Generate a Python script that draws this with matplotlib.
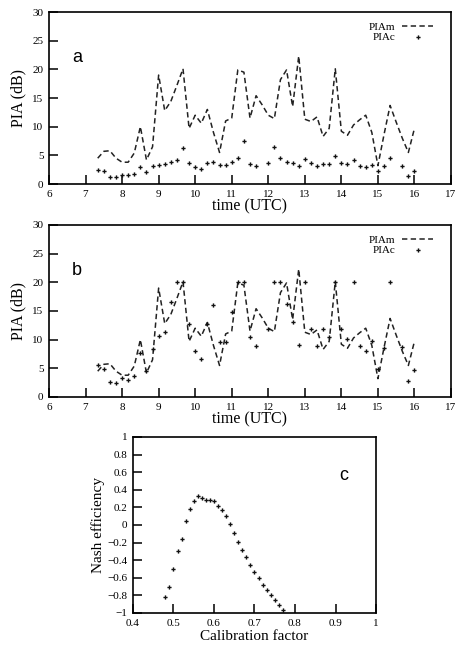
import numpy as np
import matplotlib
matplotlib.use("Agg")
import matplotlib.pyplot as plt

# Time steps (UTC hours), every 10 minutes from 7:20 to 16:00
start_min = 7 * 60 + 20
time_utc = [(start_min + 10 * i) / 60.0 for i in range(53)]

pia_m = [4.5, 5.7, 5.8, 4.5, 3.8, 3.8, 5.4, 10.0, 4.2, 6.5,
         19.0, 12.8, 14.4, 17.2, 20.1, 9.7, 12.0, 10.6, 13.0, 9.0,
         5.5, 11.0, 11.5, 19.9, 19.5, 11.5, 15.4, 13.8, 12.0, 11.4,
         18.2, 19.9, 13.5, 22.3, 11.3, 10.9, 11.7, 8.3, 9.7, 20.1,
         9.2, 8.5, 10.3, 11.2, 12.0, 9.0, 3.2, 8.6, 13.7, 10.8,
         8.0, 5.5, 9.7]

nan = float("nan")
pia_c_a = [2.4, 2.2, 1.3, 1.2, 1.6, 1.5, 1.8, 2.9, 2.1, 3.1,
           3.4, 3.5, 3.8, 4.2, 6.3, 3.6, 3.0, 2.7, 3.6, 3.8,
           3.4, 3.4, 3.8, 4.5, 7.5, 3.5, 3.2, nan, 3.6, 6.4,
           4.6, 3.8, 3.7, 3.2, 4.3, 3.6, 3.2, 3.5, 3.5, 4.8,
           3.6, 3.5, 4.2, 3.2, 3.0, 3.4, 2.2, 3.2, 4.6, nan,
           3.2, 1.4, 2.2]

pia_c_b = [5.5, 4.8, 2.7, 2.4, 3.4, 2.9, 3.6, 7.7, 4.5, 8.4,
           10.7, 11.4, 16.6, 20.0, 20.0, 12.7, 8.0, 6.6, 12.8, 16.0,
           9.6, 9.6, 14.9, 20.0, 20.0, 10.5, 8.9, nan, 11.9, 20.0,
           20.0, 16.2, 13.1, 9.0, 20.0, 11.8, 8.9, 11.8, 10.4, 20.0,
           11.8, 10.1, 20.0, 8.9, 8.0, 9.7, 4.8, 8.6, 20.0, nan,
           8.7, 2.8, 4.7]

calib_factor = [0.48, 0.49, 0.50, 0.51, 0.52, 0.53, 0.54, 0.55, 0.56, 0.57,
                0.58, 0.59, 0.60, 0.61, 0.62, 0.63, 0.64, 0.65, 0.66, 0.67,
                0.68, 0.69, 0.70, 0.71, 0.72, 0.73, 0.74, 0.75, 0.76, 0.77]
nash_eff = [-0.82, -0.71, -0.50, -0.30, -0.16, 0.05, 0.18, 0.27, 0.33, 0.31,
            0.28, 0.28, 0.27, 0.22, 0.17, 0.10, 0.01, -0.09, -0.19, -0.28,
            -0.36, -0.45, -0.53, -0.60, -0.68, -0.74, -0.80, -0.85, -0.91, -0.97]

W, H = 459, 649
fig = plt.figure(figsize=(W / 100, H / 100), dpi=100)

serif = ["Liberation Serif", "DejaVu Serif"]
sans = ["Liberation Sans", "DejaVu Sans"]
tick_fs = 8
label_fs = 11.5
ms = 3.0


def style(ax):
    ax.tick_params(direction="in", length=6.5, width=1.1, top=False, right=False,
                   labelsize=tick_fs, pad=4)
    for lab in ax.get_xticklabels() + ax.get_yticklabels():
        lab.set_family(serif)
    for s in ax.spines.values():
        s.set_linewidth(1.2)


def panel(rect, c_vals, letter):
    ax = fig.add_axes(rect)
    ax.plot(time_utc, pia_m, color="#222222", ls=(0, (3.5, 2.2)), lw=1.1,
            label="PIAm")
    ax.plot(time_utc, c_vals, ls="none", marker="P", ms=ms, color="#111111",
            mew=0, label="PIAc")
    ax.set_xlim(6, 17)
    ax.set_ylim(0, 30)
    ax.set_xticks(range(6, 18))
    ax.set_yticks(range(0, 31, 5))
    ax.set_xlabel("time (UTC)", family=serif, fontsize=label_fs, labelpad=0)
    ax.set_ylabel("PIA (dB)", family=serif, fontsize=label_fs, labelpad=4)
    style(ax)
    ax.text(0.057, 0.71, letter, transform=ax.transAxes, fontsize=13,
            family=sans)
    leg = ax.legend(loc="upper right", frameon=False, markerfirst=False,
                    prop={"family": serif, "size": 8}, handlelength=2.8,
                    handletextpad=0.6, labelspacing=0.05,
                    bbox_to_anchor=(0.975, 0.985), borderaxespad=0.3)
    for t in leg.get_texts():
        t.set_ha("right")
    return ax


panel([49 / W, 1 - 184 / H, 402 / W, 172 / H], pia_c_a, "a")
panel([49 / W, 1 - 397 / H, 402 / W, 172 / H], pia_c_b, "b")

axc = fig.add_axes([133 / W, 1 - 613 / H, 243 / W, 176 / H])
axc.plot(calib_factor, nash_eff, ls="none", marker="P", ms=ms,
         color="#111111", mew=0)
axc.set_xlim(0.4, 1.0)
axc.set_ylim(-1, 1)
axc.set_xticks(np.round(np.arange(0.4, 1.01, 0.1), 1))
axc.set_xticklabels(["0.4", "0.5", "0.6", "0.7", "0.8", "0.9", "1"])
axc.set_yticks(np.round(np.arange(-1, 1.01, 0.2), 1))
axc.set_yticklabels(["\u22121", "\u22120.8", "\u22120.6", "\u22120.4", "\u22120.2",
                     "0", "0.2", "0.4", "0.6", "0.8", "1"])
axc.set_xlabel("Calibration factor", family=serif, fontsize=11, labelpad=2)
axc.set_ylabel("Nash efficiency", family=serif, fontsize=11, labelpad=2)
style(axc)
axc.text(0.85, 0.756, "c", transform=axc.transAxes, fontsize=13,
         family=sans)

fig.savefig("out.png", dpi=100)
